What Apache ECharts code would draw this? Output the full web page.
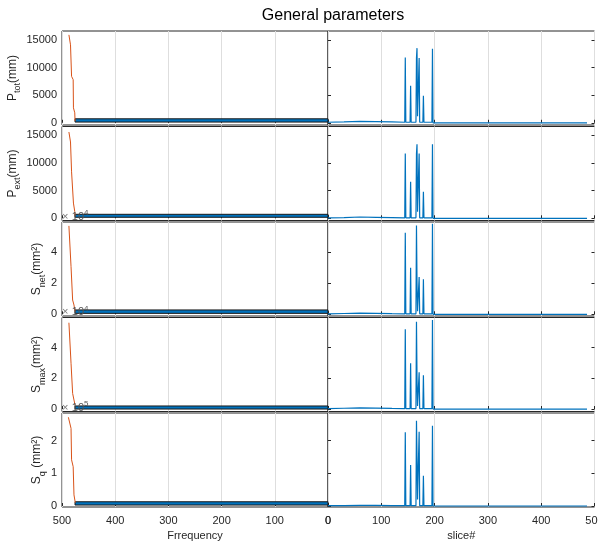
<!DOCTYPE html>
<html>
<head>
<meta charset="utf-8">
<script src="https://cdn.jsdelivr.net/npm/echarts@6/dist/echarts.min.js"></script>
<style>html,body{margin:0;padding:0;background:#fff}#c{width:598px;height:542px}</style>
</head>
<body>
<div id="c"></div>
<script>
// ---- data ----
const rowNames = [
  ['P', 'tot', '(mm)'],
  ['P', 'ext', '(mm)'],
  ['S', 'net', '(mm²)'],
  ['S', 'max', '(mm²)'],
  ['S', 'q', ' (mm²)']
];
const yMin = [-400, -400, -1100, -1600, -3000];
const yMax = [16600, 16600, 59500, 59600, 284000];
const yTicks = [
  [0, 5000, 10000, 15000],
  [0, 5000, 10000, 15000],
  [0, 20000, 40000],
  [0, 20000, 40000],
  [0, 100000, 200000]
];
const yScale = [1, 1, 1e4, 1e4, 1e5];
const yExponent = [null, null, '4', '4', '5'];
const xTicks = [0, 100, 200, 300, 400, 500];

// left panels: sorted-value curve (frequency, value)
const curveTot = [[487, 15900], [484, 14100], [482, 8400], [479, 7800], [478.5, 2700], [476, 1800], [475.5, 300]];
const curveExt = [[487, 15600], [484, 13800], [482, 8400], [479, 8100], [478.5, 2750], [476, 1200], [475.5, 400]];
const curveNet = [[487, 57000], [483, 30700], [480, 9200], [477.5, 6000], [475.5, 1700]];
const curveMax = [[487, 56200], [483, 29800], [480, 10200], [477.5, 5900], [475.5, 2600]];
const curveQ = [[488, 271000], [483, 237000], [482, 141000], [479, 120000], [477.5, 34000], [475, 10000]];

// left panels: histogram bar [freqStart, freqEnd, valueLow, valueHigh]
const barTot = [[0, 475.5, 130, 720]];
const barExt = [[0, 475.5, 180, 720]];
const barNet = [[0, 475.5, 600, 2800]];
const barMax = [[0, 475.5, 0, 2000]];
const barQ = [[0, 475.5, 3000, 13000]];

// right panels: per-slice values
const sliceX = [0, 30, 60, 90, 120, 144, 145, 146, 154, 155, 156, 165, 166, 167, 168, 171, 172, 178, 179, 180, 195, 196, 197, 260, 486];
const sliceTot = [100, 150, 250, 200, 150, 100, 11800, 100, 100, 6700, 100, 100, 11700, 13500, 1200, 11700, 100, 100, 4900, 100, 100, 13400, 0, 0, 0];
const sliceExt = [80, 130, 230, 180, 130, 90, 11700, 90, 90, 6600, 90, 90, 11700, 13400, 1200, 11700, 90, 90, 4800, 90, 90, 13400, 0, 0, 0];
const sliceNet = [300, 500, 700, 600, 400, 300, 52600, 300, 300, 30000, 300, 300, 57200, 20000, 2000, 24000, 300, 300, 22600, 300, 300, 58300, 0, 0, 0];
const sliceMax = [300, 500, 700, 600, 400, 300, 52000, 300, 300, 29800, 300, 300, 56900, 20000, 2000, 24000, 300, 300, 22000, 300, 300, 58000, 0, 0, 0];
const sliceQ = [1000, 1500, 2000, 1800, 1200, 1000, 225000, 1000, 1000, 125000, 1000, 1000, 260000, 150000, 20000, 227000, 1000, 1000, 92000, 1000, 1000, 245000, 0, 0, 0];

const curves = [curveTot, curveExt, curveNet, curveMax, curveQ];
const bars = [barTot, barExt, barNet, barMax, barQ];
const slices = [sliceTot, sliceExt, sliceNet, sliceMax, sliceQ];

// ---- layout ----
const FONT = 'Liberation Sans, Arial, Helvetica, sans-serif';
const rowTop = [31, 126.5, 222, 317.5, 413];
const rowH = 94;
const nameGaps = [37, 37, 16, 16, 16];
const dark = '#262626';

const grid = [], xAxis = [], yAxis = [], series = [], graphic = [];
for (let i = 0; i < 5; i++) {
  const last = i === 4;
  grid.push({left: 62, width: 266, top: rowTop[i], height: rowH, show: true, borderColor: dark, borderWidth: 1, backgroundColor: '#fff', outerBoundsMode: 'none', containLabel: false});
  grid.push({left: 328, width: 266.5, top: rowTop[i], height: rowH, show: true, borderColor: dark, borderWidth: 1, backgroundColor: '#fff', outerBoundsMode: 'none', containLabel: false});
  const xCommon = {
    type: 'value', min: 0, max: 500, interval: 100,
    axisLine: {show: false},
    axisTick: {show: true, inside: true, length: 3, lineStyle: {color: dark}},
    splitLine: {show: true, lineStyle: {color: '#dedede', width: 1}},
    axisLabel: {show: last, color: dark, fontSize: 11, fontFamily: FONT, margin: 8, hideOverlap: false},
    nameLocation: 'middle', nameGap: 23,
    nameTextStyle: {color: dark, fontSize: 11, fontFamily: FONT}
  };
  xAxis.push(Object.assign({}, xCommon, {gridIndex: 2 * i, inverse: true, name: last ? 'Frrequency' : ''}));
  xAxis.push(Object.assign({}, xCommon, {gridIndex: 2 * i + 1, name: last ? 'slice#' : ''}));
  const sc = yScale[i];
  const yCommon = {
    type: 'value', min: yMin[i], max: yMax[i],
    axisLine: {show: false},
    splitLine: {show: false},
    axisTick: {show: true, inside: true, length: 3, lineStyle: {color: dark}, customValues: yTicks[i]},
    axisLabel: {show: false, customValues: yTicks[i]}
  };
  const n = rowNames[i];
  yAxis.push(Object.assign({}, yCommon, {
    gridIndex: 2 * i,
    axisLabel: {show: true, customValues: yTicks[i], color: dark, fontSize: 11, fontFamily: FONT, margin: 5,
      formatter: v => String(Math.round(v / sc * 100) / 100)},
    name: '{m|' + n[0] + '}{s|' + n[1] + '}{m|' + n[2] + '}',
    nameLocation: 'middle', nameRotate: 90, nameGap: nameGaps[i],
    nameTextStyle: {color: dark, fontFamily: FONT,
      rich: {m: {fontSize: 12, fontFamily: FONT, color: dark, verticalAlign: 'bottom', lineHeight: 16},
             s: {fontSize: 9, fontFamily: FONT, color: dark, verticalAlign: 'bottom', lineHeight: 10, padding: [0, 0, -4, 0]}}}
  }));
  yAxis.push(Object.assign({}, yCommon, {gridIndex: 2 * i + 1, position: 'left'}));
  yAxis.push(Object.assign({}, yCommon, {gridIndex: 2 * i + 1, position: 'right'}));

  series.push({
    type: 'custom', xAxisIndex: 2 * i, yAxisIndex: 3 * i, data: bars[i], z: 3,
    renderItem: function (params, api) {
      const a = api.coord([api.value(0), api.value(2)]);
      const b = api.coord([api.value(1), api.value(3)]);
      return {type: 'rect',
        shape: {x: Math.min(a[0], b[0]), y: Math.min(a[1], b[1]), width: Math.abs(a[0] - b[0]), height: Math.abs(a[1] - b[1])},
        style: {fill: '#0072BD', stroke: '#1a1a1a', lineWidth: 1}};
    }
  });
  series.push({
    type: 'line', xAxisIndex: 2 * i, yAxisIndex: 3 * i, data: curves[i], symbol: 'none', z: 4,
    lineStyle: {color: '#D95319', width: 1}, animation: false
  });
  series.push({
    type: 'line', xAxisIndex: 2 * i + 1, yAxisIndex: 3 * i + 1,
    data: sliceX.map((x, k) => [x, slices[i][k]]), symbol: 'none',
    lineStyle: {color: '#0072BD', width: 1.2}, animation: false
  });
  if (yExponent[i]) {
    graphic.push({type: 'text', left: 62, top: rowTop[i] - 13, z: 100,
      style: {text: '{g|×} {m|10}{p|' + yExponent[i] + '}',
        rich: {g: {fontSize: 11, fill: '#777', fontFamily: FONT, verticalAlign: 'bottom', lineHeight: 13},
               m: {fontSize: 11, fill: '#555', fontFamily: FONT, verticalAlign: 'bottom', lineHeight: 13},
               p: {fontSize: 8, fill: '#555', fontFamily: FONT, verticalAlign: 'top', lineHeight: 13, padding: [0, 0, 6, 0]}}}});
  }
}

const chart = echarts.init(document.getElementById('c'), null, {renderer: 'canvas'});
chart.setOption({
  animation: false,
  backgroundColor: '#fff',
  title: {text: 'General parameters', left: 328, top: 3, textAlign: 'center',
    textStyle: {fontSize: 16, fontWeight: 'normal', color: '#000', fontFamily: FONT}},
  grid, xAxis, yAxis, series, graphic
});
</script>
</body>
</html>
